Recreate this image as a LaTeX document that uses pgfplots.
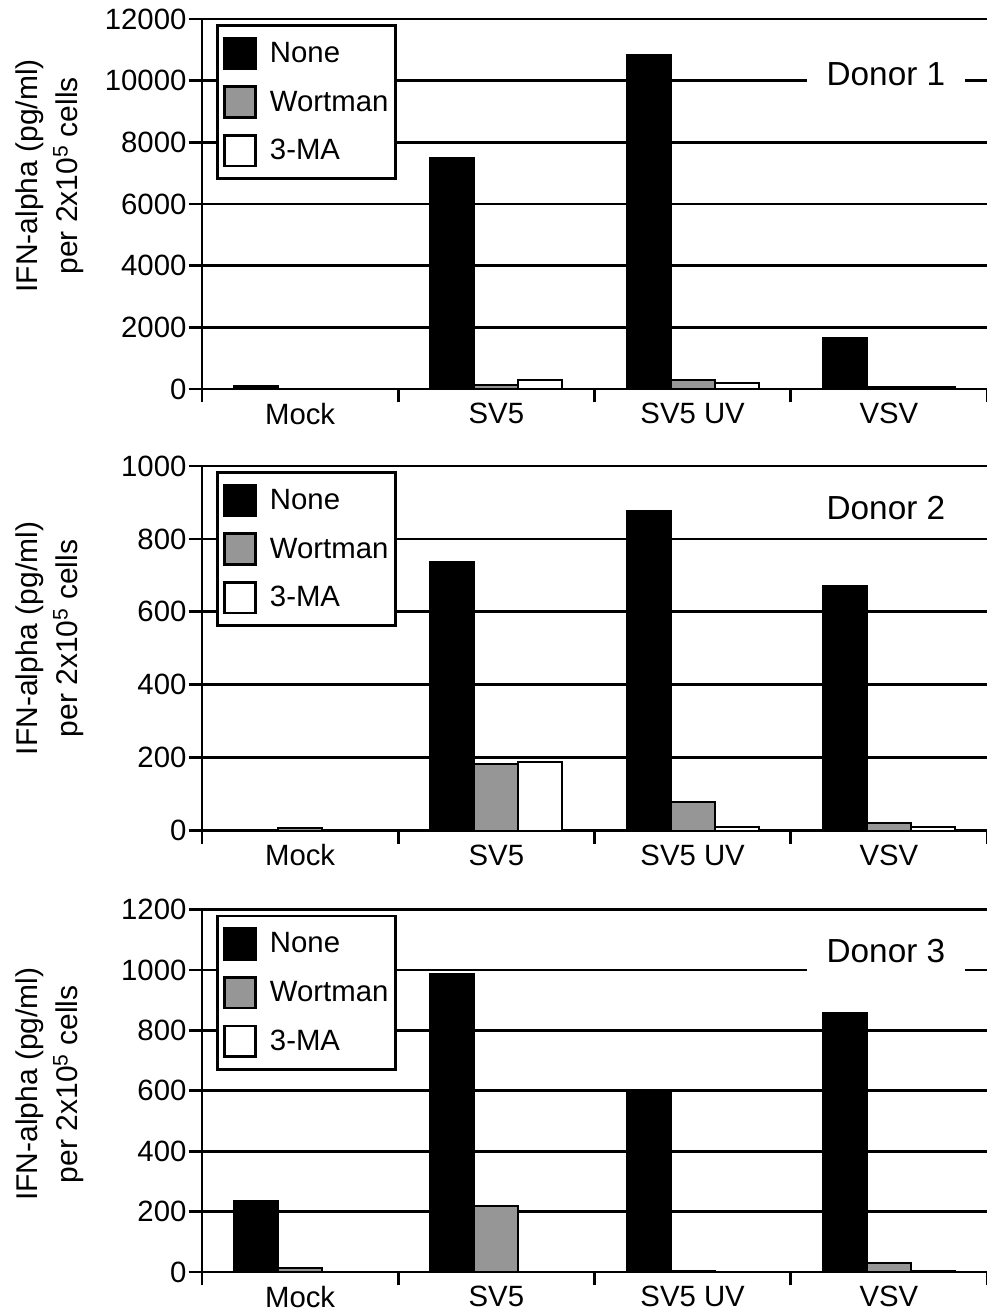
\documentclass[border=0pt]{standalone}
\usepackage{fontspec}
\setmainfont{Liberation Sans}
\usepackage{pgfplots}
\pgfplotsset{compat=1.18}
\definecolor{wgray}{RGB}{150,150,150}
\newcommand{\tf}{\fontsize{22}{26}\selectfont}
\pgfplotsset{
  mybars/.style={
    scale only axis, width=588.75pt,
    xmin=-0.5, xmax=3.5, ymin=0,
    axis x line*=bottom, axis y line*=left,
    axis line style={line width=2pt, black},
    ybar=0pt, bar width=33pt,
    xtick={-0.5,0.5,1.5,2.5,3.5}, xticklabels={},
    extra x ticks={0,1,2,3}, extra x tick labels={Mock,SV5,SV5 UV,VSV},
    extra x tick style={major tick length=0pt, xticklabel style={yshift=-7pt}},
    tick align=outside, major tick length=10pt,
    tick style={line width=2pt, black},
    ymajorgrids, grid style={line width=2pt, black},
    ticklabel style={font=\tf},
    yticklabel style={inner xsep=1.5pt},
    /pgf/number format/assume math mode=true,
    /pgf/number format/1000 sep={},
    scaled y ticks=false,
    ylabel={IFN-alpha (pg/ml)\\per 2x10\textsuperscript{5} cells},
    ylabel style={align=center, font=\fontsize{22.5}{30}\selectfont, anchor=center},
    legend style={at={(axis description cs:0.0178,0.9865)}, anchor=north west,
      draw=black, line width=2pt, fill=white, font=\tf,
      inner xsep=4.5pt, inner ysep=8.5pt, row sep=11.5pt,
      nodes={inner sep=1pt},
      /tikz/every odd column/.append style={column sep=9pt}},
    legend cell align=left,
  },
  limg/.style={legend image code/.code={\draw[##1, line width=2pt] (0pt,-11.5pt) rectangle (23pt,11.5pt);}},
  pNone/.style={draw=black, fill=black, line width=1.5pt, limg},
  pWort/.style={draw=black, fill=wgray, line width=1.5pt, limg},
  pMA/.style={draw=black, fill=white, line width=1.5pt, limg},
}
\begin{document}
\begin{tikzpicture}
\path[use as bounding box] (0,0) rectangle (740.25pt,-984.75pt);
% Donor 1
\begin{axis}[mybars, at={(151.5pt,-291.75pt)}, anchor=south west,
  height=277.5pt, ymax=12000, ytick={0,2000,...,12000},
  ylabel style={at={(axis description cs:-0.1936,0.576)}}]
\addplot[pNone] coordinates {(0,100) (1,7500) (2,10820) (3,1650)};
\addplot[pWort] coordinates {(0,0) (1,120) (2,290) (3,75)};
\addplot[pMA] coordinates {(0,0) (1,290) (2,200) (3,75)};
\legend{None,Wortman,3-MA}
\node[fill=white, inner xsep=15pt, inner ysep=8pt, anchor=base, font=\fontsize{25}{30}\selectfont] at (axis cs:2.985,9828) {Donor 1};
\end{axis}
% Donor 2
\begin{axis}[mybars, at={(151.5pt,-622.9pt)}, anchor=south west,
  height=273.4pt, ymax=1000, ytick={0,200,...,1000},
  ylabel style={at={(axis description cs:-0.1936,0.527)}}]
\addplot[pNone] coordinates {(0,0) (1,737) (2,877) (3,671)};
\addplot[pWort] coordinates {(0,7) (1,182) (2,78) (3,21)};
\addplot[pMA] coordinates {(0,0) (1,188) (2,11) (3,11)};
\legend{None,Wortman,3-MA}
\node[fill=white, inner xsep=15pt, inner ysep=8pt, anchor=base, font=\fontsize{25}{30}\selectfont] at (axis cs:2.985,852) {Donor 2};
\end{axis}
% Donor 3
\begin{axis}[mybars, at={(151.5pt,-954pt)}, anchor=south west,
  height=271.8pt, ymax=1200, ytick={0,200,...,1200},
  ylabel style={at={(axis description cs:-0.1936,0.518)}}]
\addplot[pNone] coordinates {(0,234) (1,986) (2,601) (3,857)};
\addplot[pWort] coordinates {(0,13) (1,217) (2,5) (3,30)};
\addplot[pMA] coordinates {(0,0) (1,0) (2,0) (3,5)};
\legend{None,Wortman,3-MA}
\node[fill=white, inner xsep=15pt, inner ysep=8pt, anchor=base, font=\fontsize{25}{30}\selectfont] at (axis cs:2.985,1026) {Donor 3};
\end{axis}
\end{tikzpicture}
\end{document}
